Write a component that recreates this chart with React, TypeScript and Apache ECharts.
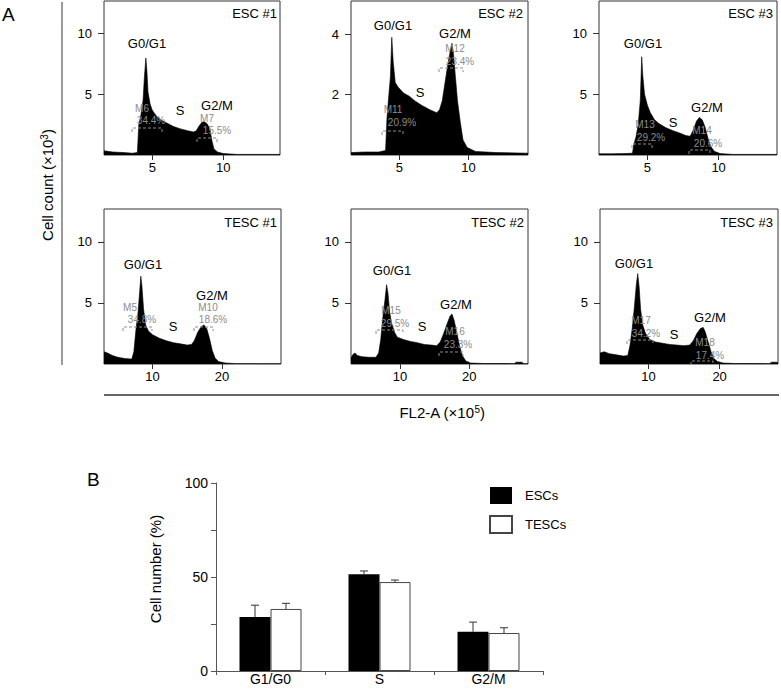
import React, { useEffect, useRef } from 'react';
import * as echarts from 'echarts';

const FONT = "'Liberation Sans', Arial, Helvetica, sans-serif";

// ---- Panel A: DNA content histograms, points are [FL2-A (x10^5), cell count (x10^3)] ----
const esc1Hist: number[][] = [
  [1.6, 0.35], [2.2, 0.25], [3.0, 0.2], [3.6, 0.15], [3.95, 0.2], [4.05, 2.5], [4.2, 3.3], [4.35, 4.5],
  [4.45, 6.5], [4.55, 8.0], [4.62, 7.0], [4.7, 5.2], [4.85, 4.2], [5.0, 3.7], [5.3, 3.2], [5.6, 2.9],
  [6.0, 2.65], [6.5, 2.35], [7.0, 2.15], [7.5, 2.0], [7.9, 1.9], [8.1, 2.0], [8.3, 2.4], [8.5, 2.7],
  [8.65, 2.75], [8.85, 2.6], [9.05, 2.2], [9.2, 1.2], [9.35, 0.5], [9.6, 0.25], [10.0, 0.12], [11, 0.05], [14, 0.05],
];
const esc2Hist: number[][] = [
  [1.5, 0.08], [2.5, 0.1], [3.5, 0.1], [4.0, 0.15], [4.1, 1.2], [4.2, 1.8], [4.35, 2.6], [4.45, 3.9],
  [4.55, 3.1], [4.7, 2.4], [4.9, 2.25], [5.3, 2.05], [5.7, 1.95], [6.1, 1.8], [6.6, 1.65], [7.2, 1.5],
  [7.7, 1.4], [7.9, 1.5], [8.1, 1.8], [8.3, 2.4], [8.5, 3.0], [8.7, 3.5], [8.8, 3.7], [8.9, 3.4],
  [9.05, 2.6], [9.2, 1.8], [9.4, 1.1], [9.6, 0.5], [9.9, 0.25], [10.5, 0.12], [12, 0.08], [14.3, 0.06],
];
const esc3Hist: number[][] = [
  [1.6, 0.1], [2.5, 0.1], [3.5, 0.12], [3.95, 0.15], [4.05, 0.9], [4.2, 1.5], [4.35, 2.5], [4.5, 4.5],
  [4.6, 8.1], [4.68, 6.5], [4.8, 5.0], [5.0, 4.1], [5.2, 3.5], [5.5, 2.9], [5.8, 2.6], [6.3, 2.25],
  [6.8, 2.0], [7.3, 1.8], [7.7, 1.6], [8.0, 1.55], [8.2, 2.0], [8.45, 2.8], [8.65, 3.1], [8.85, 2.9],
  [9.05, 2.3], [9.25, 1.4], [9.45, 0.7], [9.7, 0.3], [10.1, 0.12], [11, 0.05], [14.1, 0.05],
];
const tesc1Hist: number[][] = [
  [3.0, 1.0], [3.5, 0.9], [4.2, 0.7], [5.0, 0.55], [6.0, 0.45], [7.0, 0.4], [7.3, 1.0], [7.6, 2.8],
  [7.9, 4.2], [8.15, 6.0], [8.3, 7.2], [8.45, 6.5], [8.7, 4.5], [9.0, 3.2], [9.4, 2.7], [10.0, 2.4],
  [11.0, 2.1], [12.0, 1.9], [13.0, 1.75], [14.0, 1.65], [15.0, 1.55], [15.6, 1.6], [16.0, 1.9], [16.5, 2.6],
  [17.0, 3.05], [17.4, 3.2], [17.8, 2.9], [18.2, 2.1], [18.6, 1.1], [19.0, 0.5], [19.5, 0.2], [20.5, 0.08],
  [22, 0.03], [28.5, 0.02],
];
const tesc2Hist: number[][] = [
  [2.9, 0.5], [3.2, 0.8], [3.5, 0.9], [3.8, 0.7], [4.5, 0.6], [5.5, 0.55], [6.5, 0.55], [6.9, 0.9],
  [7.2, 2.0], [7.5, 3.8], [7.8, 5.2], [8.05, 6.5], [8.25, 5.8], [8.5, 4.2], [8.8, 3.3], [9.2, 2.6],
  [9.6, 2.2], [10.5, 2.0], [11.5, 1.85], [12.5, 1.75], [13.5, 1.6], [14.5, 1.55], [15.3, 1.5], [15.8, 1.8],
  [16.3, 2.5], [16.8, 3.3], [17.2, 3.9], [17.5, 4.1], [17.8, 3.6], [18.2, 2.6], [18.6, 1.5], [19.0, 0.7],
  [19.5, 0.25], [20.2, 0.08], [22, 0.04], [26.5, 0.03], [26.8, 0.15], [27.6, 0.15], [27.9, 0.03], [28.5, 0.03],
];
const tesc3Hist: number[][] = [
  [3.2, 0.9], [3.8, 1.0], [4.5, 0.85], [5.5, 0.75], [6.5, 0.65], [7.1, 0.7], [7.4, 1.5], [7.7, 2.8],
  [8.0, 4.5], [8.3, 6.5], [8.5, 7.4], [8.7, 6.3], [8.9, 4.5], [9.2, 3.2], [9.6, 2.5], [10.2, 2.0],
  [11, 1.8], [12, 1.7], [13, 1.6], [14, 1.55], [15, 1.5], [15.8, 1.55], [16.3, 1.9], [16.8, 2.5],
  [17.3, 2.9], [17.7, 3.0], [18.0, 2.6], [18.4, 1.8], [18.8, 1.0], [19.2, 0.45], [19.7, 0.2], [20.5, 0.08],
  [22, 0.04], [27.0, 0.03], [27.3, 0.15], [28.0, 0.15], [28.2, 0.1],
];

const panelNames = ['ESC #1', 'ESC #2', 'ESC #3', 'TESC #1', 'TESC #2', 'TESC #3'];
const histData = [esc1Hist, esc2Hist, esc3Hist, tesc1Hist, tesc2Hist, tesc3Hist];
const xRanges = [[1.6, 14], [1.5, 14.3], [1.6, 14.1], [3.0, 28.5], [2.9, 28.5], [3.2, 28.2]];
const yMaxes = [12.7, 5.1, 12.7, 12.7, 12.7, 12.7];
const xTickValues = [[5, 10], [5, 10], [5, 10], [10, 20], [10, 20], [10, 20]];
const yTickValues = [[5, 10], [2, 4], [5, 10], [5, 10], [5, 10], [5, 10]];
const phaseLabels = ['G0/G1', 'S', 'G2/M'];
const gateNames = [['M6', 'M7'], ['M11', 'M12'], ['M13', 'M14'], ['M5', 'M10'], ['M15', 'M16'], ['M17', 'M18']];
const gatePct = [[34.4, 15.5], [20.9, 23.4], [29.2, 20.6], [34.8, 18.6], [29.5, 23.3], [34.2, 17.4]];

// ---- Panel B: cell-cycle distribution (%) ----
const phases = ['G1/G0', 'S', 'G2/M'];
const escMean = [28.7, 51.4, 20.9];
const escErr = [6.3, 1.8, 5.1];
const tescMean = [33.0, 47.3, 20.2];
const tescErr = [3.0, 1.1, 2.8];
const barLabelTicks = [0, 50, 100];

// ---- layout (pixels) ----
const panelBoxes = [
  { left: 104, top: 1, width: 176, height: 154 },
  { left: 351, top: 1, width: 177, height: 154 },
  { left: 599, top: 1, width: 178, height: 154 },
  { left: 104, top: 209, width: 177, height: 155 },
  { left: 351, top: 209, width: 177, height: 155 },
  { left: 600, top: 209, width: 178, height: 155 },
];
type P = [number, number];
interface Anno { title: P; g1: P; s: P; g2: P; gates: { name: P; pct: P; br: [number, number, number] }[] }
const annos: Anno[] = [
  { title: [277, 13], g1: [147, 43], s: [180, 110], g2: [217, 105], gates: [{ name: [142, 108], pct: [151, 120], br: [132, 162, 128] }, { name: [207, 118], pct: [217, 130], br: [197, 217, 138] }] },
  { title: [523, 13], g1: [393, 25], s: [420, 92], g2: [455, 33], gates: [{ name: [393, 109], pct: [402, 122], br: [382, 403, 131] }, { name: [455, 48], pct: [460, 61], br: [439, 463, 68] }] },
  { title: [773, 13], g1: [643, 43], s: [673, 122], g2: [707, 107], gates: [{ name: [645, 124], pct: [651, 137], br: [632, 652, 144] }, { name: [702, 130], pct: [708, 143], br: [689, 710, 150] }] },
  { title: [277, 222], g1: [143, 264], s: [173, 326], g2: [212, 295], gates: [{ name: [130, 307], pct: [142, 319], br: [123, 152, 327] }, { name: [208, 307], pct: [213, 319], br: [194, 213, 327] }] },
  { title: [524, 222], g1: [392, 270], s: [422, 326], g2: [456, 304], gates: [{ name: [391, 310], pct: [395, 323], br: [376, 403, 330] }, { name: [455, 331], pct: [458, 344], br: [439, 463, 352] }] },
  { title: [773, 222], g1: [634, 263], s: [674, 334], g2: [710, 317], gates: [{ name: [641, 320], pct: [646, 333], br: [627, 653, 340] }, { name: [705, 342], pct: [710, 355], br: [691, 713, 361] }] },
];
const BAR_W = 31;
const GRAY = '#8c8c8c';

const txt = (text: string, x: number, y: number, size: number, align = 'center', color = '#000', extra: any = {}) => ({
  type: 'text', x, y, z: 20, silent: true, ...extra,
  style: { text, fill: color, fontSize: size, fontFamily: FONT, textAlign: align, align, textVerticalAlign: 'middle', verticalAlign: 'middle', ...(extra.style || {}) },
});

export default function App() {
  const ref = useRef<HTMLDivElement>(null);
  useEffect(() => {
    if (!ref.current) return;
    const chart = echarts.init(ref.current, undefined, { renderer: 'svg' });

    const grids: any[] = panelBoxes.map((b) => ({
      ...b, show: true, borderColor: '#333', borderWidth: 1, backgroundColor: 'transparent', containLabel: false, outerBoundsMode: 'none',
    }));
    grids.push({ left: 216, top: 483, width: 327, height: 188, containLabel: false, outerBoundsMode: 'none' });

    const xAxes: any[] = panelBoxes.map((_, i) => ({
      gridIndex: i, type: 'value', min: xRanges[i][0], max: xRanges[i][1],
      axisLine: { show: false }, splitLine: { show: false },
      axisTick: { show: true, length: 5, customValues: xTickValues[i], lineStyle: { color: '#333' } },
      axisLabel: { customValues: xTickValues[i], fontSize: 13, color: '#000', margin: 6, fontFamily: FONT },
    }));
    xAxes.push({
      gridIndex: 6, type: 'category', data: phases,
      axisLine: { lineStyle: { color: '#555' } },
      axisTick: { show: true, length: 4, alignWithLabel: false, lineStyle: { color: '#555' } },
      axisLabel: { fontSize: 14, color: '#000', margin: 1, fontFamily: FONT },
    });
    const yAxes: any[] = panelBoxes.map((_, i) => ({
      gridIndex: i, type: 'value', min: 0, max: yMaxes[i],
      axisLine: { show: false }, splitLine: { show: false },
      axisTick: { show: true, length: 6, customValues: yTickValues[i], lineStyle: { color: '#333' } },
      axisLabel: { customValues: yTickValues[i], fontSize: 13, color: '#000', margin: 12, fontFamily: FONT },
    }));
    yAxes.push({
      gridIndex: 6, type: 'value', min: 0, max: 100, interval: 25,
      axisLine: { show: true, lineStyle: { color: '#555' } }, splitLine: { show: false },
      axisTick: { show: true, length: 5, lineStyle: { color: '#555' } },
      axisLabel: { customValues: barLabelTicks, fontSize: 14, color: '#000', margin: 8, fontFamily: FONT },
    });

    const series: any[] = histData.map((d, i) => ({
      type: 'line', xAxisIndex: i, yAxisIndex: i, data: d, symbol: 'none', smooth: false, clip: true, silent: true,
      lineStyle: { color: '#000', width: 0.6 }, areaStyle: { color: '#000', opacity: 1 },
    }));
    series.push(
      { type: 'bar', name: 'ESCs', xAxisIndex: 6, yAxisIndex: 6, data: escMean, barWidth: BAR_W, barGap: '0%', itemStyle: { color: '#000' } },
      { type: 'bar', name: 'TESCs', xAxisIndex: 6, yAxisIndex: 6, data: tescMean, barWidth: BAR_W, barGap: '0%', itemStyle: { color: '#fff', borderColor: '#444', borderWidth: 1 } },
    );
    const errSeries = (means: number[], errs: number[], side: number) => ({
      type: 'custom', xAxisIndex: 6, yAxisIndex: 6, z: 5, silent: true,
      data: means.map((m, i) => [i, m, m + errs[i]]),
      renderItem: (_p: any, api: any) => {
        const base = api.coord([api.value(0), api.value(1)]);
        const top = api.coord([api.value(0), api.value(2)]);
        const x = base[0] + side * BAR_W / 2;
        return {
          type: 'group', children: [
            { type: 'line', shape: { x1: x, y1: base[1], x2: x, y2: top[1] }, style: { stroke: '#333', lineWidth: 1 } },
            { type: 'line', shape: { x1: x - 4, y1: top[1], x2: x + 4, y2: top[1] }, style: { stroke: '#333', lineWidth: 1 } },
          ],
        };
      },
    });
    series.push(errSeries(escMean, escErr, -1), errSeries(tescMean, tescErr, 1));

    const graphics: any[] = [];
    annos.forEach((a, i) => {
      graphics.push(txt(panelNames[i], a.title[0], a.title[1], 13, 'right'));
      graphics.push(txt(phaseLabels[0], a.g1[0], a.g1[1], 13));
      graphics.push(txt(phaseLabels[1], a.s[0], a.s[1], 13));
      graphics.push(txt(phaseLabels[2], a.g2[0], a.g2[1], 13));
      a.gates.forEach((g, j) => {
        graphics.push(txt(gateNames[i][j], g.name[0], g.name[1], 10, 'center', GRAY));
        graphics.push(txt(gatePct[i][j].toFixed(1) + '%', g.pct[0], g.pct[1], 10, 'center', GRAY));
        const [x1, x2, y] = g.br;
        graphics.push({
          type: 'polyline', z: 20, silent: true,
          shape: { points: [[x1, y + 4], [x1, y], [x2, y], [x2, y + 4]] },
          style: { stroke: GRAY, lineWidth: 1, fill: 'none', lineDash: [3, 2] },
        });
      });
    });
    graphics.push(txt('A', 2, 14, 19, 'left'));
    graphics.push(txt('B', 87, 479, 19, 'left'));
    graphics.push({ type: 'line', z: 20, silent: true, shape: { x1: 62, y1: 2, x2: 62, y2: 365 }, style: { stroke: '#555', lineWidth: 1.2 } });
    graphics.push({ type: 'line', z: 20, silent: true, shape: { x1: 104, y1: 395, x2: 779, y2: 395 }, style: { stroke: '#333', lineWidth: 1.5 } });
    graphics.push({
      type: 'text', x: 47, y: 185, rotation: Math.PI / 2, z: 20, silent: true,
      style: {
        text: '{a|Cell count (×10}{s|3}{a|)}', fontFamily: FONT, fill: '#000',
        textAlign: 'center', align: 'center', textVerticalAlign: 'middle', verticalAlign: 'middle',
        rich: { a: { fontSize: 15, fontFamily: FONT, fill: '#000' }, s: { fontSize: 10, fontFamily: FONT, verticalAlign: 'top', fill: '#000' } },
      },
    });
    graphics.push({
      type: 'text', x: 442, y: 412, z: 20, silent: true,
      style: {
        text: '{a|FL2-A (×10}{s|5}{a|)}', fontFamily: FONT, fill: '#000',
        textAlign: 'center', align: 'center', textVerticalAlign: 'middle', verticalAlign: 'middle',
        rich: { a: { fontSize: 15, fontFamily: FONT, fill: '#000' }, s: { fontSize: 10, fontFamily: FONT, verticalAlign: 'top', fill: '#000' } },
      },
    });
    graphics.push(txt('Cell number (%)', 155, 569, 15, 'center', '#000', { rotation: Math.PI / 2 }));

    chart.setOption({
      animation: false,
      backgroundColor: '#fff',
      textStyle: { fontFamily: FONT },
      grid: grids,
      xAxis: xAxes,
      yAxis: yAxes,
      series,
      legend: {
        data: ['ESCs', 'TESCs'], orient: 'vertical', left: 484, top: 482, itemWidth: 22, itemHeight: 17, itemGap: 11,
        icon: 'rect', selectedMode: false,
        textStyle: { fontSize: 13, fontFamily: FONT, color: '#000', padding: [0, 0, 0, 8] },
      },
      graphic: graphics,
    });
    return () => chart.dispose();
  }, []);
  return <div ref={ref} style={{ position: 'fixed', left: 0, top: 0, width: 781, height: 696, background: '#fff' }} />;
}
